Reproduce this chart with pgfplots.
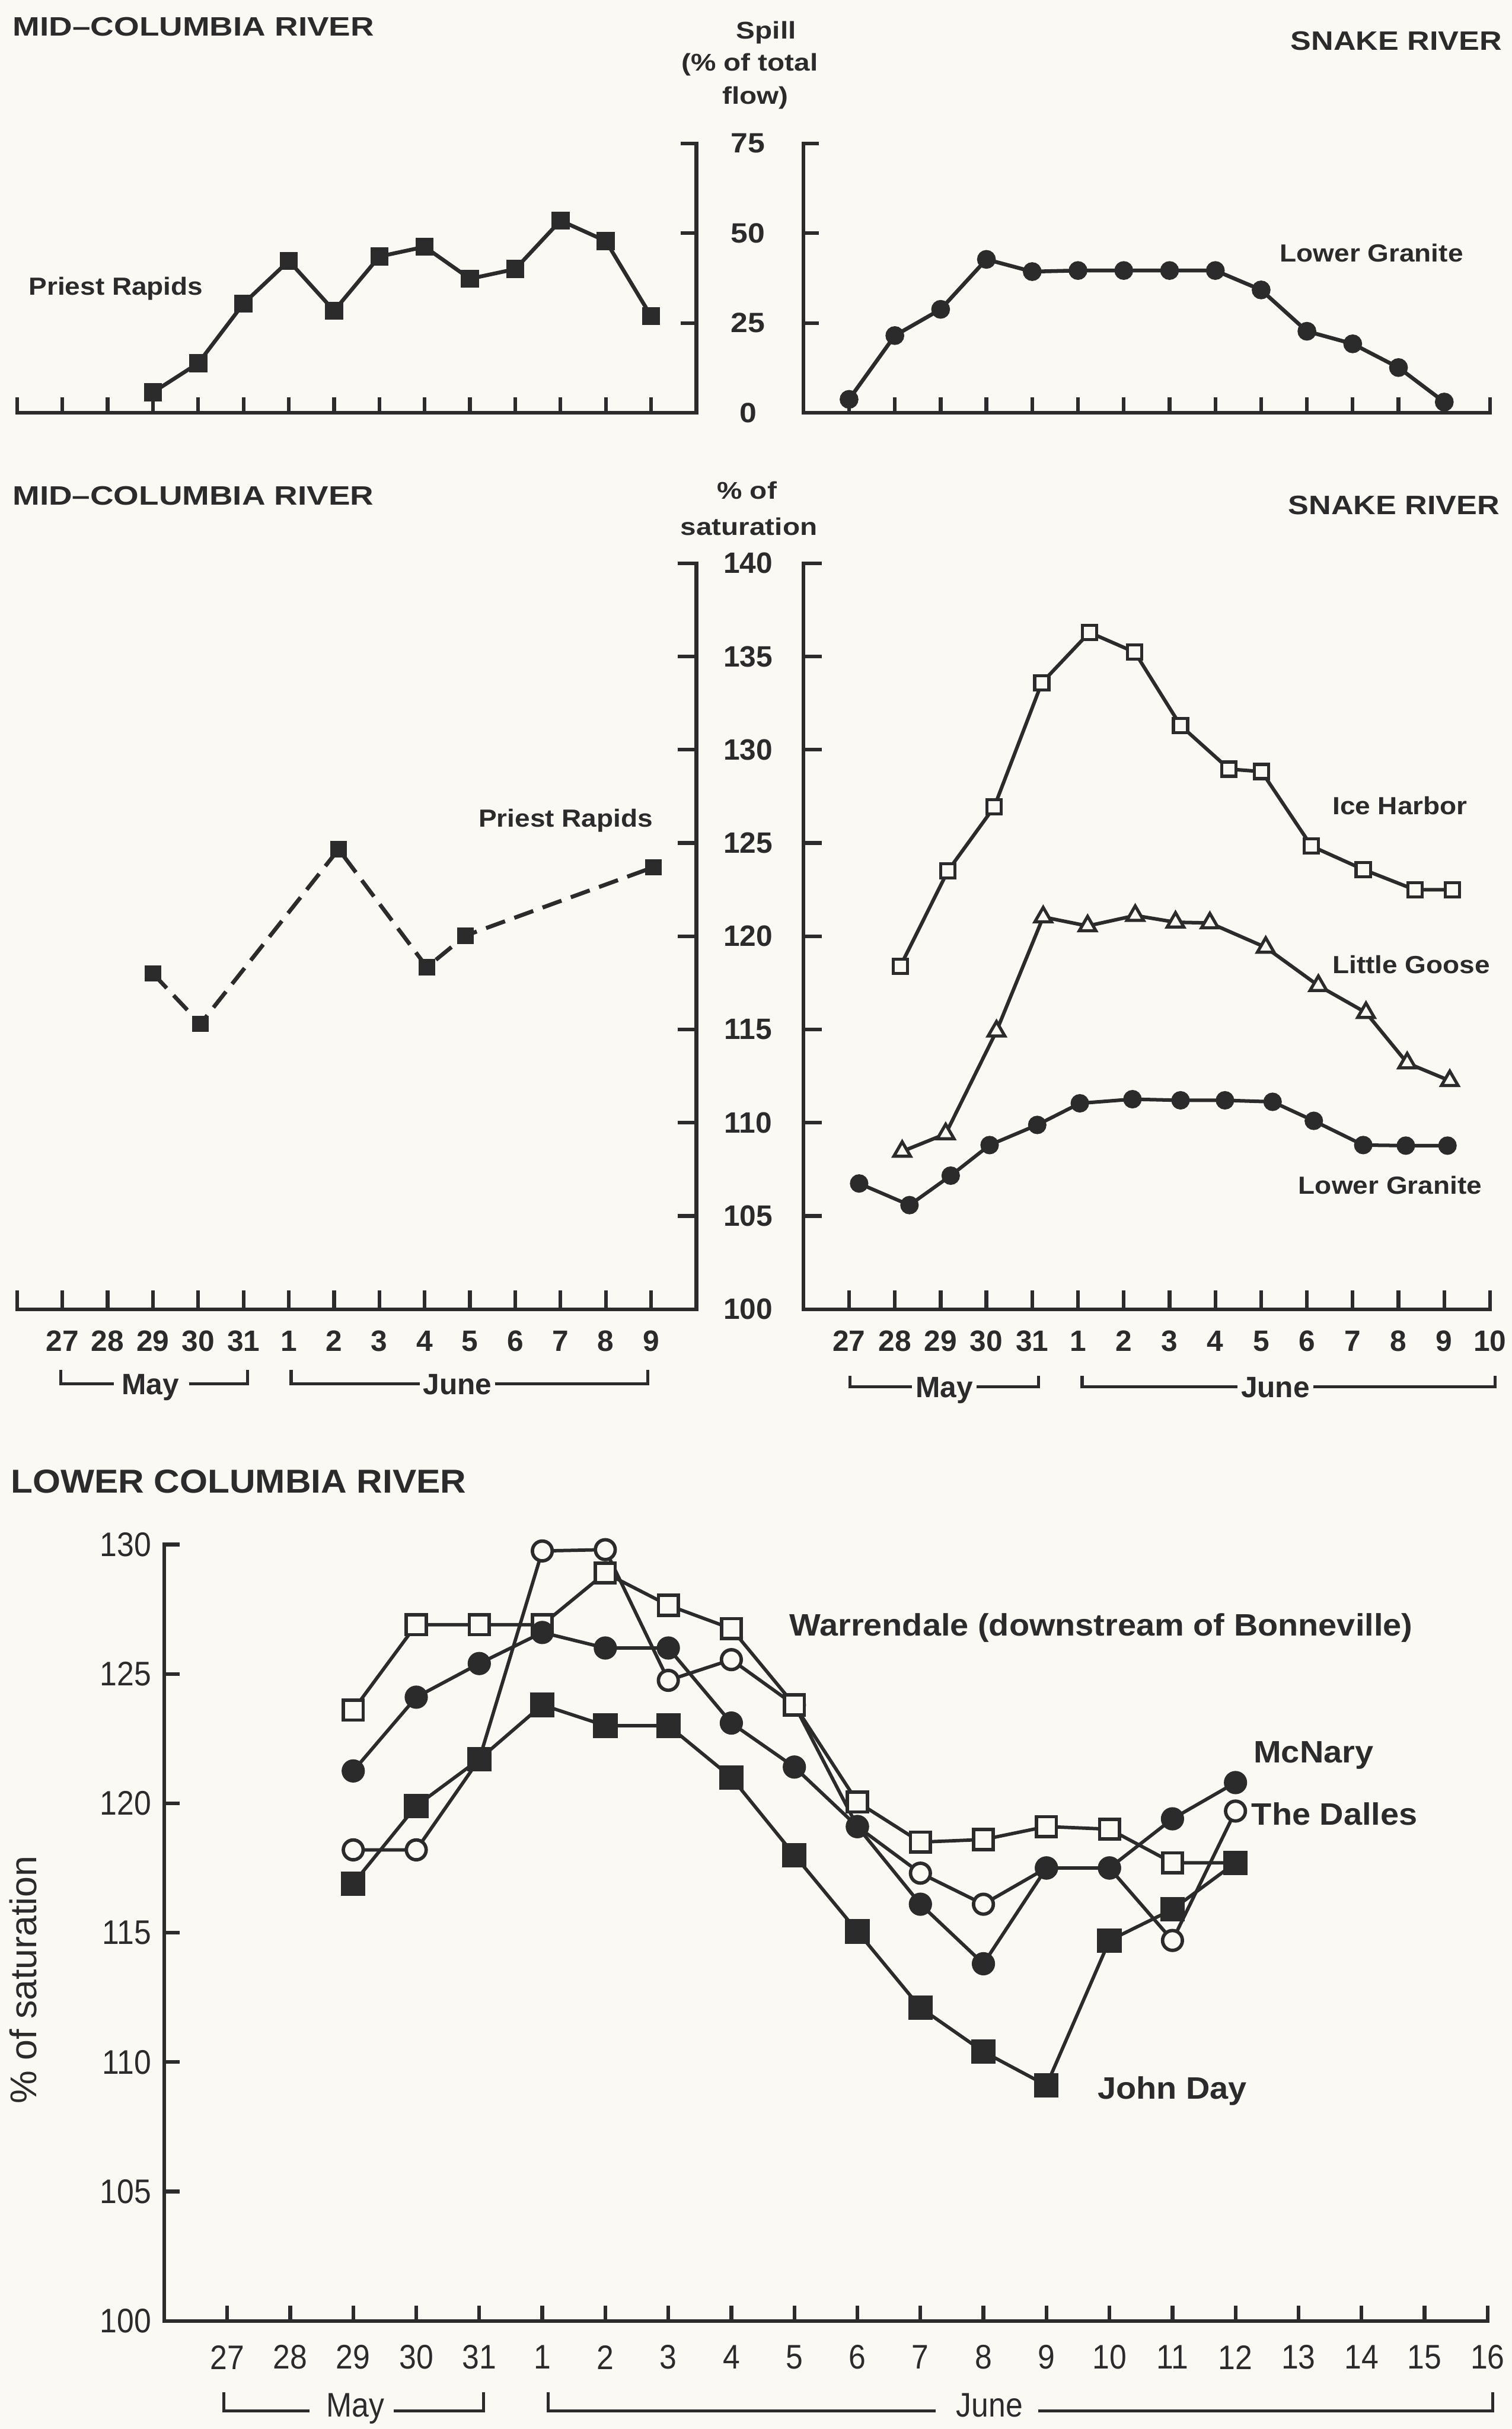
\documentclass[border=0pt]{standalone}
\usepackage{fontspec}
\setmainfont{Liberation Sans}
\usepackage{pgfplots}
\pgfplotsset{compat=1.18}
\newfontfamily\fTitle[FakeStretch=1.22]{Liberation Sans}
\newfontfamily\fSnake[FakeStretch=1.16]{Liberation Sans}
\newfontfamily\fLower[FakeStretch=1.08]{Liberation Sans}
\newfontfamily\fTopN[FakeStretch=1.10]{Liberation Sans}
\newfontfamily\fBot[FakeStretch=0.90]{Liberation Sans}
\newfontfamily\fSer[FakeStretch=1.10]{Liberation Sans}
\newfontfamily\fSerB[FakeStretch=1.07]{Liberation Sans}
\newfontfamily\fUnit[FakeStretch=1.17]{Liberation Sans}
\definecolor{ink}{HTML}{2B2B2B}
\definecolor{bg}{HTML}{FAF9F4}
\pgfplotsset{
  base/.style={scale only axis, clip=false, tick align=inside,
    axis line style={-, ink, line width=1.2pt, line cap=rect},
    x axis line style={-}, y axis line style={-},
    tick style={ink, line width=1.2pt}},
  midnum/.style={font=\bfseries\fontsize{9.5}{11}\selectfont, text=ink},
  topnum/.style={font=\fTopN\bfseries\fontsize{9}{10}\selectfont, text=ink},
  botnum/.style={font=\fBot\fontsize{11}{13}\selectfont, text=ink},
}
\begin{document}
\begin{tikzpicture}
\useasboundingbox (0pt,0pt) rectangle (488pt,-784pt);
\fill[bg] (0pt,0pt) rectangle (488pt,-784pt);

% ---------------- top left: Priest Rapids spill
\begin{axis}[axis x line=bottom, axis y line=right, base,
  at={(5.5pt,-133.25pt)}, anchor=south west, width=219.3pt, height=87pt,
  xmin=-5, xmax=10, ymin=0, ymax=75,
  xtick={-5,...,9}, xticklabels={},
  ytick={0,25,50,75}, yticklabels={0,25,50,75},
  major tick length=5pt,
  yticklabel style={topnum, anchor=center, xshift=16.7pt}]
\addplot[ink, line width=1.25pt, mark=square*, mark size=2.3pt, mark options={fill=ink}] coordinates {
(-2,5.7) (-1,13.8) (0,30.4) (1,42.3) (2,28.4) (3,43.5) (4,46.2) (5,37.3) (6,40) (7,53.5) (8,47.8) (9,26.9)};
\end{axis}

% ---------------- top right: Lower Granite spill
\begin{axis}[axis x line=bottom, axis y line=left, base,
  at={(259.3pt,-133.25pt)}, anchor=south west, width=221.7pt, height=87pt,
  xmin=-5, xmax=10, ymin=0, ymax=75,
  xtick={-4,...,10}, xticklabels={},
  ytick={0,25,50,75}, yticklabels={},
  major tick length=5pt]
\addplot[ink, line width=1.25pt, mark=*, mark size=2.4pt, mark options={fill=ink}] coordinates {
(-4,3.75) (-3,21.5) (-2,28.8) (-1,42.7) (0,39.3) (1,39.6) (2,39.6) (3,39.6) (4,39.6) (5,34.2) (6,22.7) (7,19.2) (8,12.6) (9,3.0)};
\end{axis}

% ---------------- middle left: Priest Rapids saturation
\begin{axis}[axis x line=bottom, axis y line=right, base,
  at={(5.5pt,-422.55pt)}, anchor=south west, width=219.3pt, height=240.75pt,
  xmin=-5, xmax=10, ymin=100, ymax=140,
  xtick={-5,...,9}, xticklabels={{},27,28,29,30,31,1,2,3,4,5,6,7,8,9},
  ytick={100,105,...,140}, yticklabels={100,105,110,115,120,125,130,135,140},
  major tick length=6pt,
  xticklabel style={midnum, anchor=center, yshift=-10.25pt},
  yticklabel style={midnum, anchor=center, xshift=16.7pt}]
\addplot[ink, line width=1.3pt, dash pattern=on 6.5pt off 3.2pt, mark=square*, mark size=2pt, mark options={solid, fill=ink}] coordinates {
(-2,118.0) (-0.95,115.3) (2.1,124.66) (4.05,118.34) (4.9,120.03) (9.05,123.7)};
\end{axis}

% ---------------- middle right: Snake River saturation
\begin{axis}[axis x line=bottom, axis y line=left, base,
  at={(259.3pt,-422.55pt)}, anchor=south west, width=221.7pt, height=240.75pt,
  xmin=-5, xmax=10, ymin=100, ymax=140,
  xtick={-4,...,10}, xticklabels={27,28,29,30,31,1,2,3,4,5,6,7,8,9,10},
  ytick={100,105,...,140}, yticklabels={},
  major tick length=6pt,
  xticklabel style={midnum, anchor=center, yshift=-10.25pt}]
\addplot[ink, line width=1.15pt, mark=square*, mark size=2.3pt, mark options={fill=bg, line width=1pt}] coordinates {
(-2.88,118.39) (-1.84,123.51) (-0.83,126.93) (0.21,133.59) (1.25,136.29) (2.24,135.23) (3.24,131.3) (4.3,128.96) (5.01,128.83) (6.1,124.83) (7.23,123.58) (8.36,122.49) (9.18,122.49)};
\addplot[ink, line width=1.15pt, mark=triangle*, mark size=3.1pt, mark options={fill=bg, line width=1pt}] coordinates {
(-2.84,108.46) (-1.89,109.40) (-0.78,114.91) (0.24,121.03) (1.21,120.55) (2.25,121.11) (3.13,120.75) (3.88,120.71) (5.10,119.4) (6.25,117.35) (7.29,115.9) (8.19,113.2) (9.12,112.25)};
\addplot[ink, line width=1.15pt, mark=*, mark size=2.4pt, mark options={fill=ink}] coordinates {
(-3.78,106.74) (-2.68,105.58) (-1.78,107.16) (-0.93,108.8) (0.11,109.88) (1.04,111.04) (2.19,111.26) (3.24,111.2) (4.21,111.2) (5.25,111.12) (6.15,110.1) (7.23,108.8) (8.16,108.77) (9.07,108.77)};
\end{axis}

% ---------------- bottom: Lower Columbia
\begin{axis}[axis x line=bottom, axis y line=left, base,
  at={(53pt,-749.1pt)}, anchor=south west, width=427.2pt, height=250.6pt,
  xmin=-5, xmax=16, ymin=100, ymax=130,
  xtick={-4,...,16}, xticklabels={27,28,29,30,31,1,2,3,4,5,6,7,8,9,10,11,12,13,14,15,16},
  ytick={100,105,...,130}, yticklabels={100,105,110,115,120,125,130},
  major tick length=5pt,
  xticklabel style={botnum, anchor=center, yshift=-11.75pt},
  yticklabel style={botnum, anchor=east, inner sep=0pt, xshift=-4pt}]
\addplot[ink, line width=1.1pt, mark=*, mark size=3.2pt, mark options={fill=bg, line width=1.1pt}] coordinates {
(-2,118.2) (-1,118.2) (0,121.7) (1,129.75) (2,129.8) (3,124.75) (4,125.55) (5,123.8) (6,119.1) (7,117.3) (8,116.1) (9,117.5) (10,117.5) (11,114.7) (12,119.7)};
\addplot[ink, line width=1.1pt, mark=square*, mark size=3.2pt, mark options={fill=bg, line width=1.1pt}] coordinates {
(-2,123.6) (-1,126.9) (0,126.9) (1,126.9) (2,128.9) (3,127.65) (4,126.75) (5,123.8) (6,120.05) (7,118.5) (8,118.6) (9,119.1) (10,119.0) (11,117.7) (12,117.7)};
\addplot[ink, line width=1.1pt, mark=*, mark size=3.2pt, mark options={fill=ink}] coordinates {
(-2,121.25) (-1,124.1) (0,125.4) (1,126.6) (2,126.0) (3,126.0) (4,123.1) (5,121.4) (6,119.1) (7,116.1) (8,113.8) (9,117.5) (10,117.5) (11,119.4) (12,120.8)};
\addplot[ink, line width=1.1pt, mark=square*, mark size=3.4pt, mark options={fill=ink}] coordinates {
(-2,116.9) (-1,119.9) (0,121.7) (1,123.8) (2,123.0) (3,123.0) (4,121.0) (5,118.0) (6,115.05) (7,112.1) (8,110.4) (9,109.1) (10,114.7) (11,115.9) (12,117.7)};
\end{axis}

% ---------------- titles and labels
\begin{scope}[every node/.style={inner sep=0pt, text=ink}]
\node[anchor=base west, font=\fTitle\bfseries\fontsize{8.6}{10}\selectfont] at (4pt,-11.65pt) {MID–COLUMBIA RIVER};
\node[anchor=base east, font=\fSnake\bfseries\fontsize{8.6}{10}\selectfont] at (485pt,-16.1pt) {SNAKE RIVER};
\node[anchor=base, font=\fUnit\bfseries\fontsize{7.8}{9}\selectfont] at (247.35pt,-12.5pt) {Spill};
\node[anchor=base, font=\fUnit\bfseries\fontsize{7.8}{9}\selectfont] at (242pt,-22.8pt) {(\% of total};
\node[anchor=base, font=\fUnit\bfseries\fontsize{7.8}{9}\selectfont] at (243.8pt,-33.55pt) {flow)};
\node[anchor=base west, font=\fSer\bfseries\fontsize{8}{9}\selectfont] at (9.1pt,-95.3pt) {Priest Rapids};
\node[anchor=base west, font=\fSer\bfseries\fontsize{8}{9}\selectfont] at (412.95pt,-84.5pt) {Lower Granite};

\node[anchor=base west, font=\fTitle\bfseries\fontsize{8.6}{10}\selectfont] at (3.9pt,-163pt) {MID–COLUMBIA RIVER};
\node[anchor=base east, font=\fSnake\bfseries\fontsize{8.6}{10}\selectfont] at (484.25pt,-166pt) {SNAKE RIVER};
\node[anchor=base, font=\fUnit\bfseries\fontsize{7.8}{9}\selectfont] at (241.1pt,-161.1pt) {\% of};
\node[anchor=base, font=\fUnit\bfseries\fontsize{7.8}{9}\selectfont] at (241.75pt,-172.7pt) {saturation};
\node[anchor=base west, font=\fSer\bfseries\fontsize{8}{9}\selectfont] at (154.3pt,-267pt) {Priest Rapids};
\node[anchor=base west, font=\fSer\bfseries\fontsize{8}{9}\selectfont] at (429.95pt,-262.8pt) {Ice Harbor};
\node[anchor=base west, font=\fSer\bfseries\fontsize{8}{9}\selectfont] at (429.95pt,-314.2pt) {Little Goose};
\node[anchor=base west, font=\fSer\bfseries\fontsize{8}{9}\selectfont] at (418.95pt,-385.4pt) {Lower Granite};

\node[anchor=base west, font=\fLower\bfseries\fontsize{10.7}{12}\selectfont] at (3.3pt,-481.95pt) {LOWER COLUMBIA RIVER};
\node[anchor=base west, font=\fSerB\bfseries\fontsize{10}{11}\selectfont] at (254.65pt,-527.9pt) {Warrendale (downstream of Bonneville)};
\node[anchor=base west, font=\fSerB\bfseries\fontsize{10}{11}\selectfont] at (404.5pt,-569pt) {McNary};
\node[anchor=base west, font=\fSerB\bfseries\fontsize{10}{11}\selectfont] at (403.85pt,-589.1pt) {The Dalles};
\node[anchor=base west, font=\fSerB\bfseries\fontsize{10}{11}\selectfont] at (354.15pt,-677.5pt) {John Day};
\node[rotate=90, anchor=center, font=\fontsize{12}{14}\selectfont] at (7.4pt,-639pt) {\% of saturation};

% month brackets, middle left
\draw[ink, line width=1pt] (19.6pt,-442.15pt) -- (19.6pt,-446.65pt) -- (36.8pt,-446.65pt);
\draw[ink, line width=1pt] (61pt,-446.65pt) -- (79.9pt,-446.65pt) -- (79.9pt,-442.15pt);
\node[anchor=base, font=\bfseries\fontsize{9.5}{11}\selectfont] at (48.5pt,-450.05pt) {May};
\draw[ink, line width=1pt] (94pt,-442.15pt) -- (94pt,-446.65pt) -- (135.5pt,-446.65pt);
\draw[ink, line width=1pt] (159.8pt,-446.65pt) -- (209.15pt,-446.65pt) -- (209.15pt,-442.15pt);
\node[anchor=base, font=\bfseries\fontsize{9.5}{11}\selectfont] at (147.7pt,-450.05pt) {June};
% month brackets, middle right
\draw[ink, line width=1pt] (274.45pt,-444pt) -- (274.45pt,-447.65pt) -- (294.3pt,-447.65pt);
\draw[ink, line width=1pt] (315.3pt,-447.65pt) -- (335.2pt,-447.65pt) -- (335.2pt,-444pt);
\node[anchor=base, font=\bfseries\fontsize{9.5}{11}\selectfont] at (304.8pt,-451.05pt) {May};
\draw[ink, line width=1pt] (349.3pt,-444pt) -- (349.3pt,-447.65pt) -- (399.5pt,-447.65pt);
\draw[ink, line width=1pt] (424pt,-447.65pt) -- (482.6pt,-447.65pt) -- (482.6pt,-444pt);
\node[anchor=base, font=\bfseries\fontsize{9.5}{11}\selectfont] at (411.7pt,-451.05pt) {June};
% month brackets, bottom
\draw[ink, line width=1pt] (72.2pt,-772.15pt) -- (72.2pt,-778.15pt) -- (100pt,-778.15pt);
\draw[ink, line width=1pt] (127pt,-778.15pt) -- (156.15pt,-778.15pt) -- (156.15pt,-772.15pt);
\node[anchor=base, font=\fBot\fontsize{11}{13}\selectfont] at (114.7pt,-780pt) {May};
\draw[ink, line width=1pt] (176.9pt,-772.15pt) -- (176.9pt,-778.15pt) -- (302pt,-778.15pt);
\draw[ink, line width=1pt] (335.2pt,-778.15pt) -- (481.8pt,-778.15pt) -- (481.8pt,-772.15pt);
\node[anchor=base, font=\fBot\fontsize{11}{13}\selectfont] at (319.4pt,-780pt) {June};
\end{scope}
\end{tikzpicture}
\end{document}
